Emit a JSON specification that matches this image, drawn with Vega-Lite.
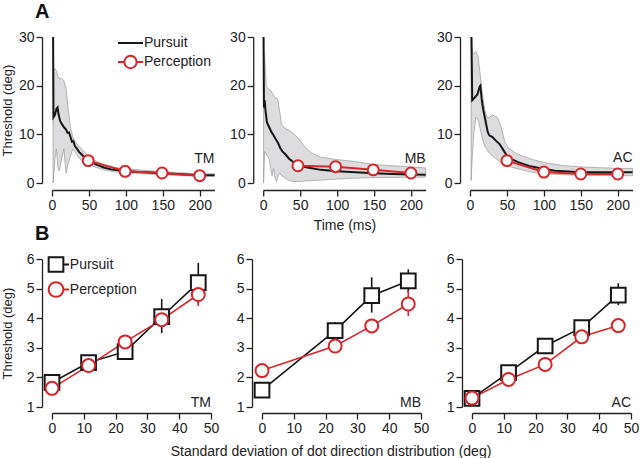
{
  "$schema": "https://vega.github.io/schema/vega-lite/v6.json",
  "padding": {"left": 0, "top": 2, "right": 0, "bottom": 0},
  "config": {
    "font": "Liberation Sans",
    "view": {"stroke": null},
    "axis": {"domainColor": "#222", "domainWidth": 1.3, "tickColor": "#222", "tickWidth": 1.3, "tickSize": 6, "labelFontSize": 14, "labelColor": "#222", "titleFontSize": 14, "titleFontWeight": "normal", "titleColor": "#222", "grid": false, "labelPadding": 2, "labelFlush": false, "labelOverlap": false, "domain": true, "ticks": true},
    "title": {"font": "Liberation Sans", "color": "#111"}
  },
  "datasets": {
    "labels": [{"subj": "TM", "label": "TM"}, {"subj": "MB", "label": "MB"}, {"subj": "AC", "label": "AC"}],
    "band": [
      {"subj":"TM","t":1.5,"lo":0,"hi":23.5},{"subj":"TM","t":4,"lo":5,"hi":23.5},{"subj":"TM","t":6,"lo":7,"hi":23},{"subj":"TM","t":8,"lo":3,"hi":22},{"subj":"TM","t":10,"lo":2.5,"hi":21.5},{"subj":"TM","t":13,"lo":5,"hi":21.5},{"subj":"TM","t":16,"lo":7,"hi":21},{"subj":"TM","t":19,"lo":2,"hi":19.5},{"subj":"TM","t":22,"lo":4,"hi":15},{"subj":"TM","t":25,"lo":5.5,"hi":11.5},{"subj":"TM","t":28,"lo":7,"hi":9.5},{"subj":"TM","t":31,"lo":6.5,"hi":8.5},{"subj":"TM","t":35,"lo":5.5,"hi":7.8},{"subj":"TM","t":40,"lo":4.6,"hi":7},{"subj":"TM","t":45,"lo":4.2,"hi":6.2},{"subj":"TM","t":50,"lo":3.8,"hi":5.4},{"subj":"TM","t":60,"lo":3.2,"hi":4.5},{"subj":"TM","t":70,"lo":2.7,"hi":3.8},{"subj":"TM","t":85,"lo":2.3,"hi":3.2},{"subj":"TM","t":100,"lo":2.1,"hi":2.9},{"subj":"TM","t":125,"lo":1.9,"hi":2.6},{"subj":"TM","t":150,"lo":1.7,"hi":2.3},{"subj":"TM","t":175,"lo":1.5,"hi":2.1},{"subj":"TM","t":200,"lo":1.4,"hi":1.9},{"subj":"TM","t":220,"lo":1.4,"hi":1.9},
      {"subj":"MB","t":0.5,"lo":0,"hi":27},{"subj":"MB","t":2,"lo":6.5,"hi":26},{"subj":"MB","t":4,"lo":6,"hi":20},{"subj":"MB","t":6,"lo":5.5,"hi":19.5},{"subj":"MB","t":8,"lo":5,"hi":19.3},{"subj":"MB","t":10,"lo":3,"hi":19},{"subj":"MB","t":12,"lo":1.5,"hi":18.5},{"subj":"MB","t":14,"lo":3,"hi":18},{"subj":"MB","t":16,"lo":1,"hi":17.5},{"subj":"MB","t":18,"lo":0.3,"hi":17.5},{"subj":"MB","t":20,"lo":1.5,"hi":17},{"subj":"MB","t":22,"lo":2,"hi":15},{"subj":"MB","t":25,"lo":1.5,"hi":12},{"subj":"MB","t":30,"lo":1,"hi":11.2},{"subj":"MB","t":35,"lo":0.5,"hi":10.8},{"subj":"MB","t":40,"lo":0.3,"hi":10.3},{"subj":"MB","t":45,"lo":0.3,"hi":9.6},{"subj":"MB","t":50,"lo":0.3,"hi":8.8},{"subj":"MB","t":55,"lo":0.4,"hi":7.6},{"subj":"MB","t":65,"lo":0.5,"hi":6.2},{"subj":"MB","t":78,"lo":0.6,"hi":5.3},{"subj":"MB","t":100,"lo":0.8,"hi":4.8},{"subj":"MB","t":125,"lo":1,"hi":4.4},{"subj":"MB","t":150,"lo":1.1,"hi":3.8},{"subj":"MB","t":200,"lo":1.2,"hi":3.3},{"subj":"MB","t":220,"lo":1.2,"hi":3.1},
      {"subj":"AC","t":1.5,"lo":0.5,"hi":29.5},{"subj":"AC","t":3,"lo":5,"hi":27},{"subj":"AC","t":5,"lo":10,"hi":26.5},{"subj":"AC","t":8,"lo":13.5,"hi":27},{"subj":"AC","t":11,"lo":13,"hi":26},{"subj":"AC","t":14,"lo":11,"hi":22},{"subj":"AC","t":17,"lo":9,"hi":18},{"subj":"AC","t":20,"lo":7.5,"hi":15},{"subj":"AC","t":23,"lo":6.8,"hi":13.5},{"subj":"AC","t":27,"lo":6,"hi":13.5},{"subj":"AC","t":30,"lo":5.6,"hi":14},{"subj":"AC","t":33,"lo":5.2,"hi":13.8},{"subj":"AC","t":37,"lo":4.8,"hi":13.5},{"subj":"AC","t":40,"lo":4.4,"hi":12.5},{"subj":"AC","t":43,"lo":4.1,"hi":11},{"subj":"AC","t":47,"lo":3.8,"hi":8.5},{"subj":"AC","t":52,"lo":3.5,"hi":7.2},{"subj":"AC","t":60,"lo":3.1,"hi":6.3},{"subj":"AC","t":70,"lo":2.7,"hi":5.6},{"subj":"AC","t":85,"lo":2.2,"hi":4.8},{"subj":"AC","t":100,"lo":1.9,"hi":4.2},{"subj":"AC","t":125,"lo":1.7,"hi":3.6},{"subj":"AC","t":150,"lo":1.6,"hi":3.3},{"subj":"AC","t":200,"lo":1.5,"hi":3},{"subj":"AC","t":220,"lo":1.5,"hi":3}
    ],
    "pursuit": [
      {"subj":"TM","series":"Pursuit","t":1.5,"v":30},{"subj":"TM","series":"Pursuit","t":2,"v":13.5},{"subj":"TM","series":"Pursuit","t":4,"v":14},{"subj":"TM","series":"Pursuit","t":6,"v":15.2},{"subj":"TM","series":"Pursuit","t":7.5,"v":15.5},{"subj":"TM","series":"Pursuit","t":9,"v":14},{"subj":"TM","series":"Pursuit","t":11,"v":12.8},{"subj":"TM","series":"Pursuit","t":13,"v":12.2},{"subj":"TM","series":"Pursuit","t":16,"v":11.5},{"subj":"TM","series":"Pursuit","t":19,"v":11},{"subj":"TM","series":"Pursuit","t":21,"v":10.3},{"subj":"TM","series":"Pursuit","t":23,"v":10.4},{"subj":"TM","series":"Pursuit","t":25,"v":9.5},{"subj":"TM","series":"Pursuit","t":27,"v":8.5},{"subj":"TM","series":"Pursuit","t":29,"v":8.6},{"subj":"TM","series":"Pursuit","t":31,"v":7.6},{"subj":"TM","series":"Pursuit","t":34,"v":7},{"subj":"TM","series":"Pursuit","t":37,"v":6.3},{"subj":"TM","series":"Pursuit","t":40,"v":5.9},{"subj":"TM","series":"Pursuit","t":45,"v":5.1},{"subj":"TM","series":"Pursuit","t":50,"v":4.6},{"subj":"TM","series":"Pursuit","t":60,"v":3.8},{"subj":"TM","series":"Pursuit","t":70,"v":3.2},{"subj":"TM","series":"Pursuit","t":80,"v":2.8},{"subj":"TM","series":"Pursuit","t":90,"v":2.6},{"subj":"TM","series":"Pursuit","t":100,"v":2.4},{"subj":"TM","series":"Pursuit","t":125,"v":2.2},{"subj":"TM","series":"Pursuit","t":150,"v":2.0},{"subj":"TM","series":"Pursuit","t":175,"v":1.8},{"subj":"TM","series":"Pursuit","t":200,"v":1.6},{"subj":"TM","series":"Pursuit","t":220,"v":1.6},
      {"subj":"MB","series":"Pursuit","t":0.5,"v":30},{"subj":"MB","series":"Pursuit","t":1,"v":15.5},{"subj":"MB","series":"Pursuit","t":2,"v":17},{"subj":"MB","series":"Pursuit","t":3,"v":15},{"subj":"MB","series":"Pursuit","t":5,"v":12.5},{"subj":"MB","series":"Pursuit","t":8,"v":11.5},{"subj":"MB","series":"Pursuit","t":11,"v":10.5},{"subj":"MB","series":"Pursuit","t":14,"v":9.8},{"subj":"MB","series":"Pursuit","t":17,"v":9},{"subj":"MB","series":"Pursuit","t":20,"v":8.3},{"subj":"MB","series":"Pursuit","t":23,"v":7.2},{"subj":"MB","series":"Pursuit","t":26,"v":6.5},{"subj":"MB","series":"Pursuit","t":30,"v":5.9},{"subj":"MB","series":"Pursuit","t":35,"v":5},{"subj":"MB","series":"Pursuit","t":40,"v":4.4},{"subj":"MB","series":"Pursuit","t":45,"v":3.9},{"subj":"MB","series":"Pursuit","t":50,"v":3.5},{"subj":"MB","series":"Pursuit","t":60,"v":3.2},{"subj":"MB","series":"Pursuit","t":78,"v":2.7},{"subj":"MB","series":"Pursuit","t":100,"v":2.4},{"subj":"MB","series":"Pursuit","t":125,"v":2.2},{"subj":"MB","series":"Pursuit","t":150,"v":2.0},{"subj":"MB","series":"Pursuit","t":175,"v":1.85},{"subj":"MB","series":"Pursuit","t":200,"v":1.75},{"subj":"MB","series":"Pursuit","t":220,"v":1.7},
      {"subj":"AC","series":"Pursuit","t":2,"v":30},{"subj":"AC","series":"Pursuit","t":3,"v":17},{"subj":"AC","series":"Pursuit","t":6,"v":17.5},{"subj":"AC","series":"Pursuit","t":10,"v":18.2},{"subj":"AC","series":"Pursuit","t":13,"v":19.8},{"subj":"AC","series":"Pursuit","t":14,"v":20},{"subj":"AC","series":"Pursuit","t":16,"v":17},{"subj":"AC","series":"Pursuit","t":18,"v":15},{"subj":"AC","series":"Pursuit","t":20,"v":13.5},{"subj":"AC","series":"Pursuit","t":22,"v":12},{"subj":"AC","series":"Pursuit","t":24,"v":10.5},{"subj":"AC","series":"Pursuit","t":26,"v":9.8},{"subj":"AC","series":"Pursuit","t":30,"v":9.5},{"subj":"AC","series":"Pursuit","t":35,"v":8.7},{"subj":"AC","series":"Pursuit","t":40,"v":8},{"subj":"AC","series":"Pursuit","t":45,"v":6.8},{"subj":"AC","series":"Pursuit","t":50,"v":5.6},{"subj":"AC","series":"Pursuit","t":55,"v":5},{"subj":"AC","series":"Pursuit","t":65,"v":4.3},{"subj":"AC","series":"Pursuit","t":80,"v":3.5},{"subj":"AC","series":"Pursuit","t":100,"v":2.9},{"subj":"AC","series":"Pursuit","t":115,"v":2.5},{"subj":"AC","series":"Pursuit","t":150,"v":2.2},{"subj":"AC","series":"Pursuit","t":200,"v":2.2},{"subj":"AC","series":"Pursuit","t":220,"v":2.2}
    ],
    "perception": [
      {"subj":"TM","series":"Perception","t":49,"v":4.6},{"subj":"TM","series":"Perception","t":99,"v":2.4},{"subj":"TM","series":"Perception","t":149,"v":2.05},{"subj":"TM","series":"Perception","t":200,"v":1.5},
      {"subj":"MB","series":"Perception","t":47,"v":3.55},{"subj":"MB","series":"Perception","t":98,"v":3.35},{"subj":"MB","series":"Perception","t":149,"v":2.7},{"subj":"MB","series":"Perception","t":200,"v":2.05},
      {"subj":"AC","series":"Perception","t":50,"v":4.6},{"subj":"AC","series":"Perception","t":100,"v":2.25},{"subj":"AC","series":"Perception","t":150,"v":1.85},{"subj":"AC","series":"Perception","t":200,"v":1.85}
    ],
    "bottom": [
      {"subj":"TM","series":"Pursuit","x":0,"v":1.83},{"subj":"TM","series":"Pursuit","x":11.5,"v":2.5},{"subj":"TM","series":"Pursuit","x":23,"v":2.87},{"subj":"TM","series":"Pursuit","x":34.5,"v":4.05,"lo":3.5,"hi":4.65},{"subj":"TM","series":"Pursuit","x":46,"v":5.2,"lo":4.5,"hi":5.87},
      {"subj":"TM","series":"Perception","x":0,"v":1.63},{"subj":"TM","series":"Perception","x":11.5,"v":2.4},{"subj":"TM","series":"Perception","x":23,"v":3.2},{"subj":"TM","series":"Perception","x":34.5,"v":3.95},{"subj":"TM","series":"Perception","x":46,"v":4.8,"lo":4.41,"hi":5.18},
      {"subj":"MB","series":"Pursuit","x":0,"v":1.57},{"subj":"MB","series":"Pursuit","x":23,"v":3.58,"lo":3.3,"hi":3.87},{"subj":"MB","series":"Pursuit","x":34.5,"v":4.76,"lo":4.19,"hi":5.38},{"subj":"MB","series":"Pursuit","x":46,"v":5.26,"lo":4.87,"hi":5.65},
      {"subj":"MB","series":"Perception","x":0,"v":2.23},{"subj":"MB","series":"Perception","x":23,"v":3.06},{"subj":"MB","series":"Perception","x":34.5,"v":3.74},{"subj":"MB","series":"Perception","x":46,"v":4.48,"lo":4.07,"hi":4.93},
      {"subj":"AC","series":"Pursuit","x":0,"v":1.29},{"subj":"AC","series":"Pursuit","x":11.5,"v":2.16},{"subj":"AC","series":"Pursuit","x":23,"v":3.06},{"subj":"AC","series":"Pursuit","x":34.5,"v":3.68,"lo":3.4,"hi":3.95},{"subj":"AC","series":"Pursuit","x":46,"v":4.78,"lo":4.44,"hi":5.18},
      {"subj":"AC","series":"Perception","x":0,"v":1.3},{"subj":"AC","series":"Perception","x":11.5,"v":1.93},{"subj":"AC","series":"Perception","x":23,"v":2.44},{"subj":"AC","series":"Perception","x":34.5,"v":3.37},{"subj":"AC","series":"Perception","x":46,"v":3.75}
    ]
  },
  "resolve": {"scale": {"color": "independent"}, "legend": {"color": "independent"}},
  "spacing": -8,
  "vconcat": [
    {
      "bounds": "flush",
      "spacing": 48.2,
      "resolve": {"scale": {"color": "independent"}, "legend": {"color": "independent"}},
      "hconcat": [
        {
          "width": 162.5, "height": 146,
          "title": {"text": "A", "anchor": "start", "frame": "group", "dx": -17, "offset": 8, "fontSize": 20, "fontWeight": "bold"},
          "layer": [
            {
              "encoding": {"x": {"field": "t", "type": "quantitative", "scale": {"domain": [0, 220], "nice": false}, "axis": {"values": [0, 50, 100, 150, 200], "offset": 7, "title": null}}},
              "layer": [
                {"data": {"name": "band"}, "transform": [{"filter": "datum.subj === 'TM'"}], "mark": {"type": "area", "color": "#dcdcde", "stroke": "#9a9a9a", "strokeWidth": 0.7},
                 "encoding": {"y": {"field": "lo", "type": "quantitative", "scale": {"domain": [0, 30], "nice": false}, "axis": {"values": [0, 10, 20, 30], "offset": 10, "title": "Threshold (deg)", "titleX": -28, "titleFontSize": 13}}, "y2": {"field": "hi"}}},
                {"data": {"name": "pursuit"}, "transform": [{"filter": "datum.subj === 'TM'"}], "mark": {"type": "line", "strokeWidth": 2},
                 "encoding": {"y": {"field": "v", "type": "quantitative", "scale": {"domain": [0, 30], "nice": false}, "axis": {"values": [0, 10, 20, 30], "offset": 10, "title": "Threshold (deg)", "titleX": -28, "titleFontSize": 13}},
                   "color": {"field": "series", "type": "nominal", "scale": {"domain": ["Pursuit", "Perception"], "range": ["#161616", "#d7252c"]},
                   "legend": {"orient": "none", "legendX": 71.5, "legendY": -1, "title": null, "symbolSize": 100, "symbolStrokeWidth": 2, "labelOffset": 6.5, "rowPadding": 1, "padding": 0, "labelFontSize": 14, "labelColor": "#222",
                     "encode": {"symbols": {"update": {"shape": {"signal": "datum.value === 'Pursuit' ? 'M-2.5,0H2.5' : 'M-2.5,0H-1.23M1.23,0H2.5M-1.23,0A1.23,1.23 0 1,0 1.23,0A1.23,1.23 0 1,0 -1.23,0'"}, "fill": {"value": "white"}, "strokeWidth": {"value": 2}, "opacity": {"value": 1}}}}}}}},
                {"data": {"name": "perception"}, "transform": [{"filter": "datum.subj === 'TM'"}], "mark": {"type": "line", "strokeWidth": 2},
                 "encoding": {"y": {"field": "v", "type": "quantitative", "scale": {"domain": [0, 30], "nice": false}, "axis": {"values": [0, 10, 20, 30], "offset": 10, "title": "Threshold (deg)", "titleX": -28, "titleFontSize": 13}},
                   "color": {"field": "series", "type": "nominal", "scale": {"domain": ["Pursuit", "Perception"], "range": ["#161616", "#d7252c"]}, "legend": null}}},
                {"data": {"name": "perception"}, "transform": [{"filter": "datum.subj === 'TM'"}], "mark": {"type": "point", "shape": "circle", "filled": false, "fill": "white", "size": 120, "strokeWidth": 2, "opacity": 1},
                 "encoding": {"y": {"field": "v", "type": "quantitative", "scale": {"domain": [0, 30], "nice": false}, "axis": {"values": [0, 10, 20, 30], "offset": 10, "title": "Threshold (deg)", "titleX": -28, "titleFontSize": 13}},
                   "color": {"field": "series", "type": "nominal", "scale": {"domain": ["Pursuit", "Perception"], "range": ["#161616", "#d7252c"]}, "legend": null}}}
              ]
            },
            {"data": {"name": "labels"}, "transform": [{"filter": "datum.subj === 'TM'"}], "mark": {"type": "text", "align": "right", "baseline": "alphabetic", "fontSize": 14, "font": "Liberation Sans", "fill": "#222"},
             "encoding": {"x": {"datum": 220, "type": "quantitative", "axis": {"values": [0, 50, 100, 150, 200], "offset": 7, "title": null}},
               "y": {"datum": 4.2, "type": "quantitative", "axis": {"values": [0, 10, 20, 30], "offset": 10, "title": "Threshold (deg)", "titleX": -28, "titleFontSize": 13}}, "text": {"field": "label", "type": "nominal"}}}
          ]
        },
        {
          "bounds": "flush",
          "spacing": 43.8,
          "hconcat": [
            {
              "width": 162.5, "height": 146,
              "layer": [
                {
                  "encoding": {"x": {"field": "t", "type": "quantitative", "scale": {"domain": [0, 220], "nice": false}, "axis": {"values": [0, 50, 100, 150, 200], "offset": 7, "title": "Time (ms)", "titlePadding": 6}}},
                  "layer": [
                    {"data": {"name": "band"}, "transform": [{"filter": "datum.subj === 'MB'"}], "mark": {"type": "area", "color": "#dcdcde", "stroke": "#9a9a9a", "strokeWidth": 0.7},
                     "encoding": {"y": {"field": "lo", "type": "quantitative", "scale": {"domain": [0, 30], "nice": false}, "axis": {"values": [0, 10, 20, 30], "offset": 10, "title": null}}, "y2": {"field": "hi"}}},
                    {"data": {"name": "pursuit"}, "transform": [{"filter": "datum.subj === 'MB'"}], "mark": {"type": "line", "strokeWidth": 2, "color": "#161616"},
                     "encoding": {"y": {"field": "v", "type": "quantitative", "scale": {"domain": [0, 30], "nice": false}, "axis": {"values": [0, 10, 20, 30], "offset": 10, "title": null}}}},
                    {"data": {"name": "perception"}, "transform": [{"filter": "datum.subj === 'MB'"}], "mark": {"type": "line", "strokeWidth": 2, "color": "#d7252c"},
                     "encoding": {"y": {"field": "v", "type": "quantitative", "scale": {"domain": [0, 30], "nice": false}, "axis": {"values": [0, 10, 20, 30], "offset": 10, "title": null}}}},
                    {"data": {"name": "perception"}, "transform": [{"filter": "datum.subj === 'MB'"}], "mark": {"type": "point", "shape": "circle", "filled": false, "fill": "white", "stroke": "#d7252c", "size": 120, "strokeWidth": 2, "opacity": 1},
                     "encoding": {"y": {"field": "v", "type": "quantitative", "scale": {"domain": [0, 30], "nice": false}, "axis": {"values": [0, 10, 20, 30], "offset": 10, "title": null}}}}
                  ]
                },
                {"data": {"name": "labels"}, "transform": [{"filter": "datum.subj === 'MB'"}], "mark": {"type": "text", "align": "right", "baseline": "alphabetic", "fontSize": 14, "font": "Liberation Sans", "fill": "#222"},
                 "encoding": {"x": {"datum": 220, "type": "quantitative", "axis": {"values": [0, 50, 100, 150, 200], "offset": 7, "title": "Time (ms)", "titlePadding": 6}},
                   "y": {"datum": 4.2, "type": "quantitative", "axis": {"values": [0, 10, 20, 30], "offset": 10, "title": null}}, "text": {"field": "label", "type": "nominal"}}}
              ]
            },
            {
              "width": 162.5, "height": 146,
              "layer": [
                {
                  "encoding": {"x": {"field": "t", "type": "quantitative", "scale": {"domain": [0, 220], "nice": false}, "axis": {"values": [0, 50, 100, 150, 200], "offset": 7, "title": null}}},
                  "layer": [
                    {"data": {"name": "band"}, "transform": [{"filter": "datum.subj === 'AC'"}], "mark": {"type": "area", "color": "#dcdcde", "stroke": "#9a9a9a", "strokeWidth": 0.7},
                     "encoding": {"y": {"field": "lo", "type": "quantitative", "scale": {"domain": [0, 30], "nice": false}, "axis": {"values": [0, 10, 20, 30], "offset": 10, "title": null}}, "y2": {"field": "hi"}}},
                    {"data": {"name": "pursuit"}, "transform": [{"filter": "datum.subj === 'AC'"}], "mark": {"type": "line", "strokeWidth": 2, "color": "#161616"},
                     "encoding": {"y": {"field": "v", "type": "quantitative", "scale": {"domain": [0, 30], "nice": false}, "axis": {"values": [0, 10, 20, 30], "offset": 10, "title": null}}}},
                    {"data": {"name": "perception"}, "transform": [{"filter": "datum.subj === 'AC'"}], "mark": {"type": "line", "strokeWidth": 2, "color": "#d7252c"},
                     "encoding": {"y": {"field": "v", "type": "quantitative", "scale": {"domain": [0, 30], "nice": false}, "axis": {"values": [0, 10, 20, 30], "offset": 10, "title": null}}}},
                    {"data": {"name": "perception"}, "transform": [{"filter": "datum.subj === 'AC'"}], "mark": {"type": "point", "shape": "circle", "filled": false, "fill": "white", "stroke": "#d7252c", "size": 120, "strokeWidth": 2, "opacity": 1},
                     "encoding": {"y": {"field": "v", "type": "quantitative", "scale": {"domain": [0, 30], "nice": false}, "axis": {"values": [0, 10, 20, 30], "offset": 10, "title": null}}}}
                  ]
                },
                {"data": {"name": "labels"}, "transform": [{"filter": "datum.subj === 'AC'"}], "mark": {"type": "text", "align": "right", "baseline": "alphabetic", "fontSize": 14, "font": "Liberation Sans", "fill": "#222"},
                 "encoding": {"x": {"datum": 220, "type": "quantitative", "axis": {"values": [0, 50, 100, 150, 200], "offset": 7, "title": null}},
                   "y": {"datum": 4.4, "type": "quantitative", "axis": {"values": [0, 10, 20, 30], "offset": 10, "title": null}}, "text": {"field": "label", "type": "nominal"}}}
              ]
            }
          ]
        }
      ]
    },
    {
      "bounds": "flush",
      "spacing": 51,
      "resolve": {"scale": {"color": "independent"}, "legend": {"color": "independent"}},
      "hconcat": [
        {
          "width": 159, "height": 148,
          "title": {"text": "B", "anchor": "start", "frame": "group", "dx": -17, "offset": 8, "fontSize": 20, "fontWeight": "bold"},
          "layer": [
            {
              "encoding": {"x": {"field": "x", "type": "quantitative", "scale": {"domain": [0, 50], "nice": false}, "axis": {"values": [0, 10, 20, 30, 40, 50], "offset": 6, "title": null}}},
              "layer": [
                {"data": {"name": "bottom"}, "transform": [{"filter": "datum.subj === 'TM' && datum.series === 'Pursuit'"}], "mark": {"type": "line", "strokeWidth": 1.6},
                 "encoding": {"y": {"field": "v", "type": "quantitative", "scale": {"domain": [1, 6], "nice": false, "zero": false}, "axis": {"values": [1, 2, 3, 4, 5, 6], "offset": 10, "title": "Threshold (deg)", "titleX": -28, "titleFontSize": 13}},
                   "color": {"field": "series", "type": "nominal", "scale": {"domain": ["Pursuit", "Perception"], "range": ["#161616", "#d7252c"]},
                   "legend": {"orient": "none", "legendX": -3, "legendY": -1.5, "title": null, "symbolSize": 100, "symbolStrokeWidth": 2, "labelOffset": 6.8, "rowPadding": 1, "padding": 0, "labelFontSize": 14, "labelColor": "#222",
                     "encode": {"symbols": {"update": {"shape": {"signal": "datum.value === 'Pursuit' ? 'M-1.47,-1.47H1.47V1.47H-1.47ZM1.47,0H2.6' : 'M-1.47,0A1.47,1.47 0 1,0 1.47,0A1.47,1.47 0 1,0 -1.47,0M1.47,0H2.6'"}, "fill": {"value": "white"}, "strokeWidth": {"value": 2}, "opacity": {"value": 1}}}}}}}},
                {"data": {"name": "bottom"}, "transform": [{"filter": "datum.subj === 'TM' && datum.series === 'Perception'"}], "mark": {"type": "line", "strokeWidth": 1.6},
                 "encoding": {"y": {"field": "v", "type": "quantitative", "scale": {"domain": [1, 6], "nice": false, "zero": false}, "axis": {"values": [1, 2, 3, 4, 5, 6], "offset": 10, "title": "Threshold (deg)", "titleX": -28, "titleFontSize": 13}},
                   "color": {"field": "series", "type": "nominal", "scale": {"domain": ["Pursuit", "Perception"], "range": ["#161616", "#d7252c"]}, "legend": null}}},
                {"data": {"name": "bottom"}, "transform": [{"filter": "datum.subj === 'TM' && isValid(datum.lo)"}], "mark": {"type": "rule", "strokeWidth": 1.6},
                 "encoding": {"y": {"field": "lo", "type": "quantitative", "scale": {"domain": [1, 6], "nice": false, "zero": false}, "axis": {"values": [1, 2, 3, 4, 5, 6], "offset": 10, "title": "Threshold (deg)", "titleX": -28, "titleFontSize": 13}}, "y2": {"field": "hi"},
                   "color": {"field": "series", "type": "nominal", "scale": {"domain": ["Pursuit", "Perception"], "range": ["#161616", "#d7252c"]}, "legend": null}}},
                {"data": {"name": "bottom"}, "transform": [{"filter": "datum.subj === 'TM' && datum.series === 'Pursuit'"}], "mark": {"type": "point", "shape": "square", "filled": false, "fill": "white", "size": 216, "strokeWidth": 2, "opacity": 1},
                 "encoding": {"y": {"field": "v", "type": "quantitative", "scale": {"domain": [1, 6], "nice": false, "zero": false}, "axis": {"values": [1, 2, 3, 4, 5, 6], "offset": 10, "title": "Threshold (deg)", "titleX": -28, "titleFontSize": 13}},
                   "color": {"field": "series", "type": "nominal", "scale": {"domain": ["Pursuit", "Perception"], "range": ["#161616", "#d7252c"]}, "legend": null}}},
                {"data": {"name": "bottom"}, "transform": [{"filter": "datum.subj === 'TM' && datum.series === 'Perception'"}], "mark": {"type": "point", "shape": "circle", "filled": false, "fill": "white", "size": 169, "strokeWidth": 2, "opacity": 1},
                 "encoding": {"y": {"field": "v", "type": "quantitative", "scale": {"domain": [1, 6], "nice": false, "zero": false}, "axis": {"values": [1, 2, 3, 4, 5, 6], "offset": 10, "title": "Threshold (deg)", "titleX": -28, "titleFontSize": 13}},
                   "color": {"field": "series", "type": "nominal", "scale": {"domain": ["Pursuit", "Perception"], "range": ["#161616", "#d7252c"]}, "legend": null}}}
              ]
            },
            {"data": {"name": "labels"}, "transform": [{"filter": "datum.subj === 'TM'"}], "mark": {"type": "text", "align": "right", "baseline": "alphabetic", "fontSize": 14, "font": "Liberation Sans", "fill": "#222"},
             "encoding": {"x": {"datum": 50, "type": "quantitative", "axis": {"values": [0, 10, 20, 30, 40, 50], "offset": 6, "title": null}},
               "y": {"datum": 1, "type": "quantitative", "axis": {"values": [1, 2, 3, 4, 5, 6], "offset": 10, "title": "Threshold (deg)", "titleX": -28, "titleFontSize": 13}}, "text": {"field": "label", "type": "nominal"}}}
          ]
        },
        {
          "width": 159, "height": 148,
          "layer": [
            {
              "encoding": {"x": {"field": "x", "type": "quantitative", "scale": {"domain": [0, 50], "nice": false}, "axis": {"values": [0, 10, 20, 30, 40, 50], "offset": 6, "title": "Standard deviation of dot direction distribution (deg)", "titleX": 68.5, "titlePadding": 9}}},
              "layer": [
                {"data": {"name": "bottom"}, "transform": [{"filter": "datum.subj === 'MB' && datum.series === 'Pursuit'"}], "mark": {"type": "line", "strokeWidth": 1.6, "color": "#161616"},
                 "encoding": {"y": {"field": "v", "type": "quantitative", "scale": {"domain": [1, 6], "nice": false, "zero": false}, "axis": {"values": [1, 2, 3, 4, 5, 6], "offset": 10, "title": null}}}},
                {"data": {"name": "bottom"}, "transform": [{"filter": "datum.subj === 'MB' && datum.series === 'Perception'"}], "mark": {"type": "line", "strokeWidth": 1.6, "color": "#d7252c"},
                 "encoding": {"y": {"field": "v", "type": "quantitative", "scale": {"domain": [1, 6], "nice": false, "zero": false}, "axis": {"values": [1, 2, 3, 4, 5, 6], "offset": 10, "title": null}}}},
                {"data": {"name": "bottom"}, "transform": [{"filter": "datum.subj === 'MB' && datum.series === 'Pursuit' && isValid(datum.lo)"}], "mark": {"type": "rule", "strokeWidth": 1.6, "color": "#161616"},
                 "encoding": {"y": {"field": "lo", "type": "quantitative", "scale": {"domain": [1, 6], "nice": false, "zero": false}, "axis": {"values": [1, 2, 3, 4, 5, 6], "offset": 10, "title": null}}, "y2": {"field": "hi"}}},
                {"data": {"name": "bottom"}, "transform": [{"filter": "datum.subj === 'MB' && datum.series === 'Perception' && isValid(datum.lo)"}], "mark": {"type": "rule", "strokeWidth": 1.6, "color": "#d7252c"},
                 "encoding": {"y": {"field": "lo", "type": "quantitative", "scale": {"domain": [1, 6], "nice": false, "zero": false}, "axis": {"values": [1, 2, 3, 4, 5, 6], "offset": 10, "title": null}}, "y2": {"field": "hi"}}},
                {"data": {"name": "bottom"}, "transform": [{"filter": "datum.subj === 'MB' && datum.series === 'Pursuit'"}], "mark": {"type": "point", "shape": "square", "filled": false, "fill": "white", "stroke": "#161616", "size": 216, "strokeWidth": 2, "opacity": 1},
                 "encoding": {"y": {"field": "v", "type": "quantitative", "scale": {"domain": [1, 6], "nice": false, "zero": false}, "axis": {"values": [1, 2, 3, 4, 5, 6], "offset": 10, "title": null}}}},
                {"data": {"name": "bottom"}, "transform": [{"filter": "datum.subj === 'MB' && datum.series === 'Perception'"}], "mark": {"type": "point", "shape": "circle", "filled": false, "fill": "white", "stroke": "#d7252c", "size": 169, "strokeWidth": 2, "opacity": 1},
                 "encoding": {"y": {"field": "v", "type": "quantitative", "scale": {"domain": [1, 6], "nice": false, "zero": false}, "axis": {"values": [1, 2, 3, 4, 5, 6], "offset": 10, "title": null}}}}
              ]
            },
            {"data": {"name": "labels"}, "transform": [{"filter": "datum.subj === 'MB'"}], "mark": {"type": "text", "align": "right", "baseline": "alphabetic", "fontSize": 14, "font": "Liberation Sans", "fill": "#222"},
             "encoding": {"x": {"datum": 50, "type": "quantitative", "axis": {"values": [0, 10, 20, 30, 40, 50], "offset": 6, "title": "Standard deviation of dot direction distribution (deg)", "titleX": 68.5, "titlePadding": 9}},
               "y": {"datum": 1, "type": "quantitative", "axis": {"values": [1, 2, 3, 4, 5, 6], "offset": 10, "title": null}}, "text": {"field": "label", "type": "nominal"}}}
          ]
        },
        {
          "width": 159, "height": 148,
          "layer": [
            {
              "encoding": {"x": {"field": "x", "type": "quantitative", "scale": {"domain": [0, 50], "nice": false}, "axis": {"values": [0, 10, 20, 30, 40, 50], "offset": 6, "title": null}}},
              "layer": [
                {"data": {"name": "bottom"}, "transform": [{"filter": "datum.subj === 'AC' && datum.series === 'Pursuit'"}], "mark": {"type": "line", "strokeWidth": 1.6, "color": "#161616"},
                 "encoding": {"y": {"field": "v", "type": "quantitative", "scale": {"domain": [1, 6], "nice": false, "zero": false}, "axis": {"values": [1, 2, 3, 4, 5, 6], "offset": 10, "title": null}}}},
                {"data": {"name": "bottom"}, "transform": [{"filter": "datum.subj === 'AC' && datum.series === 'Perception'"}], "mark": {"type": "line", "strokeWidth": 1.6, "color": "#d7252c"},
                 "encoding": {"y": {"field": "v", "type": "quantitative", "scale": {"domain": [1, 6], "nice": false, "zero": false}, "axis": {"values": [1, 2, 3, 4, 5, 6], "offset": 10, "title": null}}}},
                {"data": {"name": "bottom"}, "transform": [{"filter": "datum.subj === 'AC' && datum.series === 'Pursuit' && isValid(datum.lo)"}], "mark": {"type": "rule", "strokeWidth": 1.6, "color": "#161616"},
                 "encoding": {"y": {"field": "lo", "type": "quantitative", "scale": {"domain": [1, 6], "nice": false, "zero": false}, "axis": {"values": [1, 2, 3, 4, 5, 6], "offset": 10, "title": null}}, "y2": {"field": "hi"}}},
                {"data": {"name": "bottom"}, "transform": [{"filter": "datum.subj === 'AC' && datum.series === 'Pursuit'"}], "mark": {"type": "point", "shape": "square", "filled": false, "fill": "white", "stroke": "#161616", "size": 216, "strokeWidth": 2, "opacity": 1},
                 "encoding": {"y": {"field": "v", "type": "quantitative", "scale": {"domain": [1, 6], "nice": false, "zero": false}, "axis": {"values": [1, 2, 3, 4, 5, 6], "offset": 10, "title": null}}}},
                {"data": {"name": "bottom"}, "transform": [{"filter": "datum.subj === 'AC' && datum.series === 'Perception'"}], "mark": {"type": "point", "shape": "circle", "filled": false, "fill": "white", "stroke": "#d7252c", "size": 169, "strokeWidth": 2, "opacity": 1},
                 "encoding": {"y": {"field": "v", "type": "quantitative", "scale": {"domain": [1, 6], "nice": false, "zero": false}, "axis": {"values": [1, 2, 3, 4, 5, 6], "offset": 10, "title": null}}}}
              ]
            },
            {"data": {"name": "labels"}, "transform": [{"filter": "datum.subj === 'AC'"}], "mark": {"type": "text", "align": "right", "baseline": "alphabetic", "fontSize": 14, "font": "Liberation Sans", "fill": "#222"},
             "encoding": {"x": {"datum": 50, "type": "quantitative", "axis": {"values": [0, 10, 20, 30, 40, 50], "offset": 6, "title": null}},
               "y": {"datum": 1, "type": "quantitative", "axis": {"values": [1, 2, 3, 4, 5, 6], "offset": 10, "title": null}}, "text": {"field": "label", "type": "nominal"}}}
          ]
        }
      ]
    }
  ]
}
